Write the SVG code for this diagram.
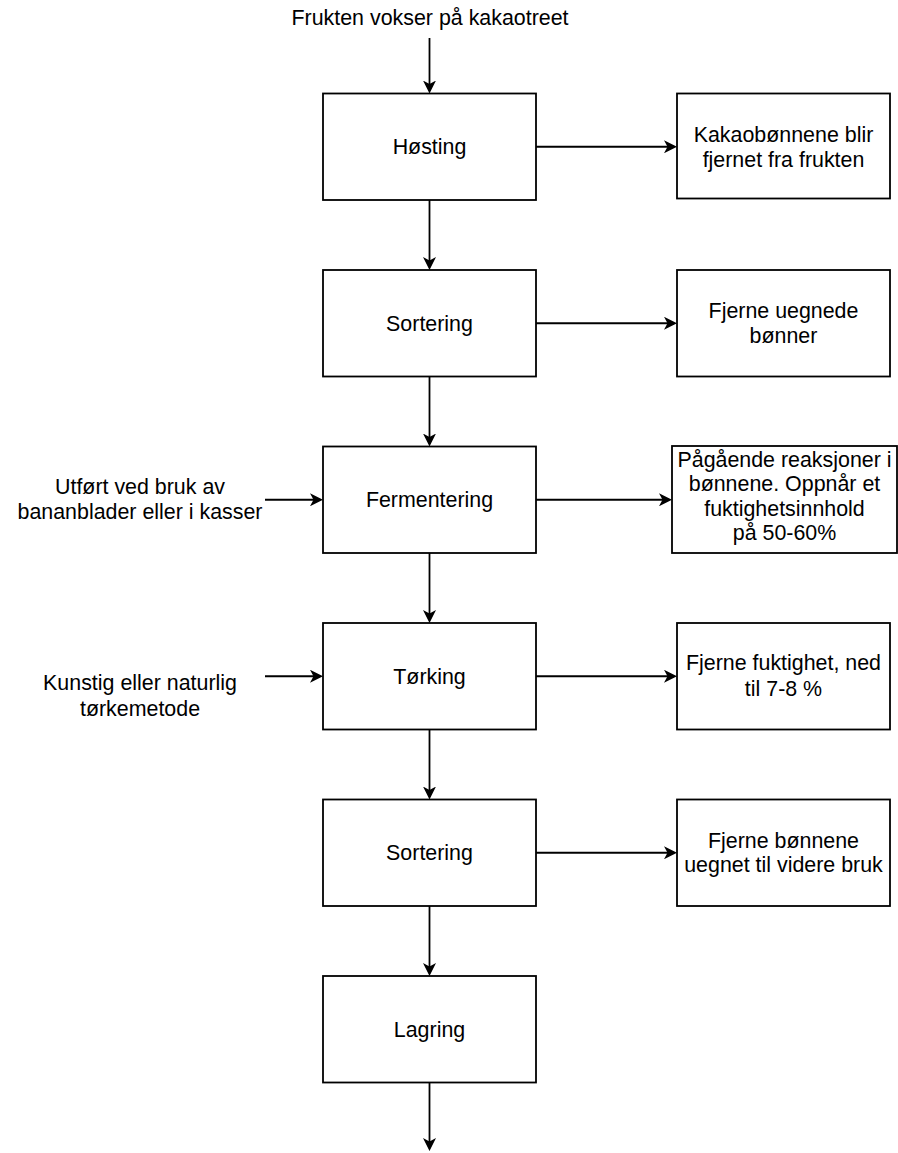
<svg xmlns="http://www.w3.org/2000/svg" width="898" height="1153" viewBox="0 0 898 1153">
  <style>
    .box { fill: #ffffff; stroke: #000000; stroke-width: 1.8; }
    .edge { fill: none; stroke: #000000; stroke-width: 1.8; marker-end: url(#arrow); }
    text { font-family: "Liberation Sans", Arial, Helvetica, sans-serif; font-size: 21.4px; fill: #000000; text-anchor: middle; }
  </style>
  <defs>
    <marker id="arrow" viewBox="0 0 13 13" refX="10" refY="6.5" markerWidth="13" markerHeight="13" markerUnits="userSpaceOnUse" orient="auto">
      <path d="M0,0 L13,6.5 L0,13 L3.5,6.5 Z" fill="#000000"/>
    </marker>
  </defs>
  <rect width="898" height="1153" fill="#ffffff"/>

  <!-- connectors -->
  <g id="connectors">
    <!-- main column -->
    <line class="edge" x1="429.5" y1="38" x2="429.5" y2="90.5"/>
    <line class="edge" x1="429.5" y1="200" x2="429.5" y2="267"/>
    <line class="edge" x1="429.5" y1="376.5" x2="429.5" y2="443.5"/>
    <line class="edge" x1="429.5" y1="553" x2="429.5" y2="620"/>
    <line class="edge" x1="429.5" y1="729.5" x2="429.5" y2="796.5"/>
    <line class="edge" x1="429.5" y1="906" x2="429.5" y2="973"/>
    <line class="edge" x1="429.5" y1="1082.5" x2="429.5" y2="1148"/>
    <!-- outputs to the right -->
    <line class="edge" x1="536" y1="146.75" x2="674" y2="146.75"/>
    <line class="edge" x1="536" y1="323.25" x2="674" y2="323.25"/>
    <line class="edge" x1="536" y1="499.75" x2="669" y2="499.75"/>
    <line class="edge" x1="536" y1="676.25" x2="674" y2="676.25"/>
    <line class="edge" x1="536" y1="852.75" x2="674" y2="852.75"/>
    <!-- inputs from the left -->
    <line class="edge" x1="265" y1="499.75" x2="320" y2="499.75"/>
    <line class="edge" x1="265" y1="676.25" x2="320" y2="676.25"/>
  </g>

  <!-- free labels -->
  <g id="start-label">
    <text x="430" y="25">Frukten vokser på kakaotreet</text>
  </g>
  <g id="input-fermentering">
    <text x="140" y="493.5">Utført ved bruk av</text>
    <text x="140" y="518.5">bananblader eller i kasser</text>
  </g>
  <g id="input-torking">
    <text x="140" y="690">Kunstig eller naturlig</text>
    <text x="140" y="715.5">tørkemetode</text>
  </g>

  <!-- process steps -->
  <g id="hosting">
    <rect class="box" x="323" y="93.5" width="213" height="106.5"/>
    <text x="429.5" y="154.25">Høsting</text>
  </g>
  <g id="sortering-1">
    <rect class="box" x="323" y="270" width="213" height="106.5"/>
    <text x="429.5" y="330.75">Sortering</text>
  </g>
  <g id="fermentering">
    <rect class="box" x="323" y="446.5" width="213" height="106.5"/>
    <text x="429.5" y="507.25">Fermentering</text>
  </g>
  <g id="torking">
    <rect class="box" x="323" y="623" width="213" height="106.5"/>
    <text x="429.5" y="683.75">Tørking</text>
  </g>
  <g id="sortering-2">
    <rect class="box" x="323" y="799.5" width="213" height="106.5"/>
    <text x="429.5" y="860.25">Sortering</text>
  </g>
  <g id="lagring">
    <rect class="box" x="323" y="976" width="213" height="106.5"/>
    <text x="429.5" y="1036.75">Lagring</text>
  </g>

  <!-- results -->
  <g id="result-hosting">
    <rect class="box" x="677" y="93.5" width="213" height="105"/>
    <text x="783.5" y="141.5">Kakaobønnene blir</text>
    <text x="783.5" y="167">fjernet fra frukten</text>
  </g>
  <g id="result-sortering-1">
    <rect class="box" x="677" y="270" width="213" height="106.5"/>
    <text x="783.5" y="317.5">Fjerne uegnede</text>
    <text x="783.5" y="343">bønner</text>
  </g>
  <g id="result-fermentering">
    <rect class="box" x="672" y="446" width="225" height="107"/>
    <text x="784.5" y="466.5">Pågående reaksjoner i</text>
    <text x="784.5" y="491">bønnene. Oppnår et</text>
    <text x="784.5" y="515.5">fuktighetsinnhold</text>
    <text x="784.5" y="540">på 50-60%</text>
  </g>
  <g id="result-torking">
    <rect class="box" x="677" y="623" width="213" height="106.5"/>
    <text x="783.5" y="670">Fjerne fuktighet, ned</text>
    <text x="783.5" y="695.5">til 7-8 %</text>
  </g>
  <g id="result-sortering-2">
    <rect class="box" x="677" y="799.5" width="213" height="106.5"/>
    <text x="783.5" y="847.5">Fjerne bønnene</text>
    <text x="783.5" y="872">uegnet til videre bruk</text>
  </g>
</svg>
